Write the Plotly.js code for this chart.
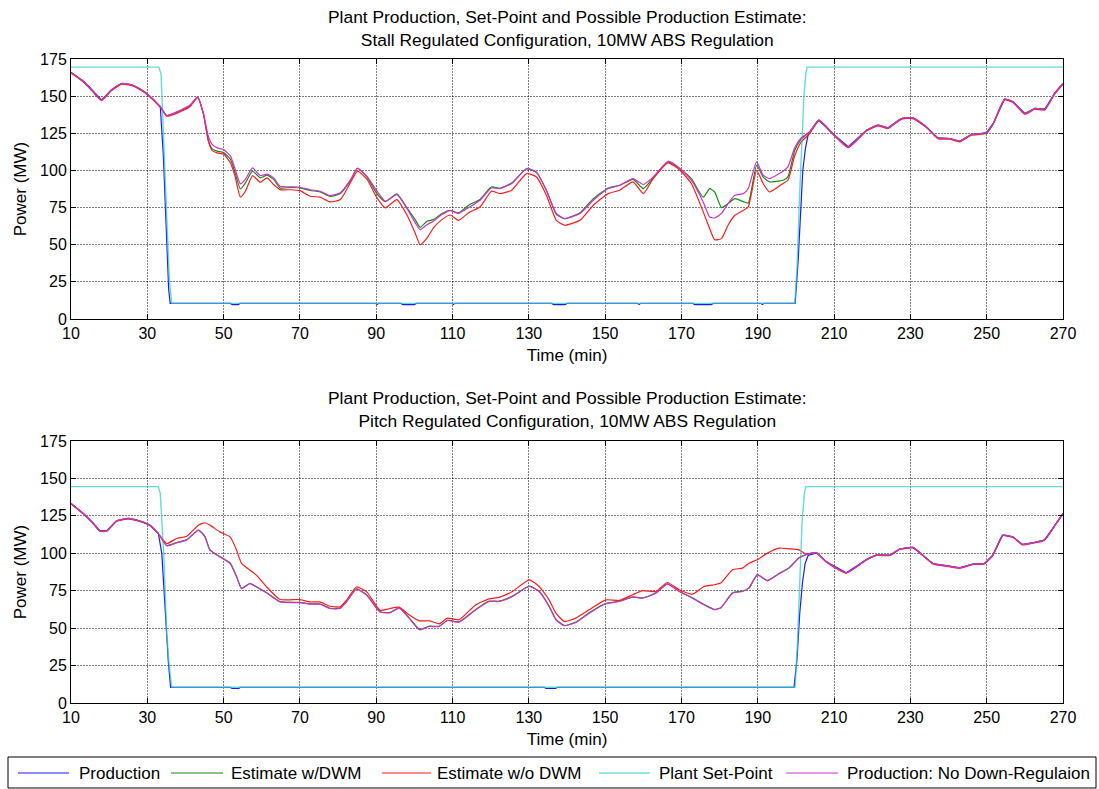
<!DOCTYPE html>
<html>
<head>
<meta charset="utf-8">
<script src="https://cdn.plot.ly/plotly-3.0.1.min.js"></script>
<style>
  html, body { margin: 0; padding: 0; background: #ffffff; }
  #chart { width: 1099px; height: 789px; }
</style>
</head>
<body>
<div id="chart"></div>
<script>
// ---- Stall regulated configuration (upper panel) ----
const tStall = [10, 13, 15, 18, 20.5, 23.3, 26, 28, 30, 33.4, 35.1, 38.6, 41.2, 43.2, 44.7, 46, 47, 48.3, 50, 51.8,
  53, 54.4, 55.7, 57.6, 59.6, 61.4, 63.1, 64.8, 67.5, 70, 72.7, 75.3, 77.9, 80.6, 83.2, 85.1, 87.6, 90.2, 92.4, 95.4,
  98, 100.2, 101.5, 103.3, 105, 107.2, 109.4, 111.5, 114.5, 117.2, 120.2, 122.4, 125.5, 129.4, 132, 134.6, 137.2, 139.4, 143.4, 146.9,
  150.8, 153.8, 157.3, 160, 162.6, 166.5, 169.6, 172.6, 175.7, 177.4, 178.7, 180.5, 182.2, 184, 186.2, 187.5, 189.7, 191.4, 193.1, 196.6,
  197.9, 199.7, 201.4, 203.6, 206, 209.7, 213.7, 218.5, 221.5, 224.1, 227.6, 230.7, 234.2, 237.2, 240.3, 242.9, 246, 249.9, 251.7, 254.7,
  256.9, 260, 262.6, 265.2, 267.8, 270];
const stallNoDownReg = [166, 160.5, 155.5, 147.5, 154, 158.5, 157.5, 155, 151.5, 143, 137, 140.5, 144, 149.5, 138.5, 123, 117.5, 115.2, 114, 109.6,
  101, 91, 94, 101.7, 96.5, 97.5, 95, 89.4, 89, 88.7, 87, 86, 83, 85, 93.5, 101.5, 96, 86, 79.3, 83.7,
  74.8, 64.7, 60.2, 63.5, 65.8, 70.3, 73, 71, 75.4, 79.9, 88.2, 87.8, 91.2, 101.3, 99, 86.7, 71, 67.6, 71, 79.9,
  87.8, 90, 94.5, 90.5, 95.6, 106.2, 101.3, 93.4, 78.8, 68.7, 68, 71, 77.7, 83.3, 84.4, 87.8, 105.8, 96.8, 94.5, 99.5,
  102.4, 115.5, 122, 126, 133.8, 124.8, 115.9, 127.1, 130.5, 128.7, 134.9, 135.4, 129.3, 121.9, 121.5, 119.7, 124.2, 125.3, 131.6, 148,
  146.2, 138.3, 141.7, 141.2, 151.8, 158.5];
const stallEstDWM = [166, 160.5, 155.5, 147.5, 154, 158.5, 157.5, 155, 151.5, 143, 137, 140, 143.5, 149.5, 138, 120, 114.5, 113, 112, 107.5,
  98.5, 87.5, 91.6, 99.5, 95, 96.8, 94, 88.2, 88.5, 88.3, 86.5, 85.5, 82.5, 84.5, 93, 101.3, 95.5, 84.2, 79, 84.2,
  75, 66.9, 61.7, 65.8, 66.9, 71, 73.2, 71.4, 77, 80.5, 88.9, 88, 91.5, 101, 98.5, 86.5, 70.5, 67.5, 71.5, 81,
  88.2, 90, 94, 87.8, 95, 105.8, 101, 94.5, 82, 87.8, 85.5, 75, 77.7, 81, 79, 78, 103.5, 95.6, 92.3, 93.4,
  95.6, 113.6, 121, 126, 133.8, 124.8, 115.9, 127.1, 130.5, 128.7, 134.9, 135.4, 129.3, 121.9, 121.5, 119.7, 124.2, 125.3, 131.6, 148,
  146.2, 138.3, 141.7, 141.2, 151.8, 158.5];
const stallEstNoDWM = [165.5, 160, 155, 147, 153.5, 158, 157, 154.5, 151, 142.5, 136.5, 139.5, 143, 149, 138, 120, 113.5, 111.8, 111, 105,
  96, 82, 86, 96.5, 92, 95, 90.5, 87.1, 87, 86.4, 82.6, 82, 78.8, 80.4, 91.6, 99.5, 93.9, 81.5, 74.8, 80.4,
  70.3, 57.9, 50, 54.5, 61.3, 66.9, 70, 66.4, 72, 75.4, 86, 84.4, 86.7, 97.9, 95.6, 83.3, 66.4, 63.1, 66.4, 76.6,
  84.4, 86.7, 92.3, 84.4, 94.5, 105.1, 100.1, 91.2, 72.1, 60.8, 53.4, 54.1, 63.1, 69.8, 73.2, 75.4, 100.1, 91.2, 85.5, 91.2,
  93.4, 110, 119.2, 124.8, 133.3, 124.3, 115.4, 126.6, 130, 128.2, 134.4, 134.9, 128.8, 121.4, 121, 119.2, 123.7, 124.8, 131.1, 147.5,
  145.7, 137.8, 141.2, 140.7, 151.3, 158];
const tStallProd = [10, 13, 15, 18, 20.5, 23.3, 26, 28, 30, 33.4, 34.2, 35, 35.6, 36,
  51.8, 52.3, 53.8, 54.3, 89.8, 90.2, 90.6, 96.5, 97, 100, 100.5, 109.8, 110.2, 110.6,
  136, 136.5, 139.5, 140, 158.5, 158.9, 159.3, 173, 173.5, 177.8, 178.3, 190.8, 191.2, 191.6,
  199.8, 200.6, 201.2, 201.8, 202.5, 203.2, 203.6, 206, 209.7, 213.7, 218.5, 221.5, 224.1, 227.6, 230.7, 234.2,
  237.2, 240.3, 242.9, 246, 249.9, 251.7, 254.7, 256.9, 260, 262.6, 265.2, 267.8, 270];
const stallProd = [166, 160.5, 155.5, 147.5, 154, 158.5, 157.5, 155, 151.5, 143, 110, 60, 20, 10.5,
  10.5, 9.7, 9.7, 10.5, 10.5, 9.7, 10.5, 10.5, 9.7, 9.7, 10.5, 10.5, 9.7, 10.5,
  10.5, 9.7, 9.7, 10.5, 10.5, 9.7, 10.5, 10.5, 9.7, 9.7, 10.5, 10.5, 9.7, 10.5,
  10.5, 40, 75, 100, 115, 124, 126, 133.8, 124.8, 115.9, 127.1, 130.5, 128.7, 134.9, 135.4, 129.3,
  121.9, 121.5, 119.7, 124.2, 125.3, 131.6, 148, 146.2, 138.3, 141.7, 141.2, 151.8, 158.5];
const tStallSet = [10, 33, 33.6, 34.2, 35, 35.8, 36.4, 199.7, 200.3, 200.9, 201.5, 202.1, 202.6, 202.9, 270];
const stallSet = [169.5, 169.5, 165, 130, 75, 25, 10.5, 10.5, 35, 80, 120, 150, 165, 169.5, 169.5];

// ---- Pitch regulated configuration (lower panel) ----
const tPitch = [10, 13.2, 15.5, 17.6, 19.3, 22, 25, 28.1, 30.7, 32.9, 35.1, 37.7, 40.3, 43.4, 45.1, 46.4, 49, 51.7, 53.4, 54.7,
  56.9, 58.6, 61.3, 64.8, 70, 72.6, 75.2, 77.9, 80.5, 82.2, 84.8, 87.5, 91, 93.6, 96, 98.6, 101.3, 103.9, 106.5, 108.7,
  111.7, 116.1, 119.6, 122.2, 125.7, 130.1, 132.7, 135.3, 137.1, 139.3, 142.3, 145.8, 150.2, 153.7, 157.2, 159.8, 163.3, 166.3, 169.4, 172.9,
  175.9, 178.6, 180.3, 183.4, 186, 187.7, 189.9, 192.5, 195.6, 198.2, 200.8, 202.6, 205.4, 208, 213.2, 218.5, 221.1, 224.6, 227.2, 230.7,
  235.9, 239.4, 242.9, 246.4, 249.4, 251.6, 254.2, 256.8, 259.4, 262, 265.1, 268.2, 270];
const pitchNoDownReg = [133.3, 126.6, 121, 115, 115, 121.7, 123.3, 121.5, 118.8, 113.2, 105, 107, 108.8, 115.5, 111, 102.1, 97.6, 93.2, 84.2, 76.4,
  79.8, 77.5, 73.5, 67.5, 67, 66, 66, 63.1, 63.1, 67.5, 76, 72, 60.8, 60.2, 63.4, 56.7, 48.9, 51.1, 51.1, 55.1,
  54, 62.3, 67.8, 67.8, 71.2, 77.8, 74.5, 64.5, 55.6, 51.6, 53.8, 60, 66.3, 67.8, 70.7, 70, 73.4, 79.4, 74.5, 70,
  65.6, 62.3, 63.4, 73.4, 74.5, 76.7, 85.6, 81.6, 86.3, 90.1, 96.8, 99, 100.3, 94.3, 87, 95.9, 98.8, 98.8, 102.8, 103.9,
  93.2, 91.7, 90.3, 92.8, 93.2, 98.8, 112.1, 111, 105.9, 107, 108.8, 119.9, 126.6];
const pitchEstDWM = [133.3, 126.6, 121, 115, 115, 121.7, 123.3, 121.5, 118.8, 113.2, 105.2, 107.2, 109, 115.5, 111.3, 102.5, 97.8, 93.5, 84.5, 76.6,
  80, 77.7, 73.7, 67.7, 67.2, 66.2, 66.2, 63.3, 63.3, 67.7, 76.2, 72.2, 61, 60.5, 63.5, 57, 49.2, 51.3, 51.3, 55.3,
  54.2, 62.5, 68, 68, 71.4, 78, 74.7, 64.8, 55.9, 51.8, 54, 60.2, 66.5, 68, 70.9, 70.2, 73.6, 79.6, 74.7, 70.2,
  65.9, 62.6, 63.7, 73.6, 74.7, 76.9, 85.8, 81.9, 86.5, 90.3, 97, 99, 100.3, 94.3, 87, 95.9, 98.8, 98.8, 102.8, 103.9,
  93.2, 91.7, 90.3, 92.8, 93.2, 98.8, 112.1, 111, 105.9, 107, 108.8, 119.9, 126.6];
const pitchEstNoDWM = [133, 126.3, 120.7, 114.7, 114.7, 121.4, 123, 121.2, 118.5, 113, 106.5, 109.9, 111.4, 118.8, 120.4, 118.8, 114.3, 111, 102.1, 93.2,
  88.7, 85.4, 77.5, 69.1, 69.1, 67.5, 67.5, 64.6, 64.2, 68.6, 77.5, 74.2, 61.9, 63.1, 64, 58.9, 54.9, 54.9, 52.9, 56.7,
  55.6, 65.6, 69.6, 70.5, 74.5, 82.3, 77.8, 68.9, 60, 54.5, 56.7, 62.3, 68.9, 68.5, 72.3, 75, 74.5, 80.5, 75.6, 72.7,
  77.8, 79, 80.1, 89, 90.1, 93.4, 95.7, 100.1, 103.5, 103, 102.3, 99.5, 100.3, 94, 86.8, 95.6, 98.5, 98.5, 102.5, 103.6,
  92.9, 91.4, 90, 92.5, 92.9, 98.5, 111.8, 110.7, 105.6, 106.7, 108.5, 119.6, 126.3];
const tPitchProd = [10, 13.2, 15.5, 17.6, 19.3, 22, 25, 28.1, 30.7, 32.9, 33.8, 34.6, 35.1, 35.5, 36.1,
  51.7, 52.2, 54, 54.4, 134, 134.5, 137, 137.5,
  199.5, 200.3, 201, 201.7, 202.4, 203.2, 205.4, 208, 213.2, 218.5, 221.1, 224.6, 227.2, 230.7,
  235.9, 239.4, 242.9, 246.4, 249.4, 251.6, 254.2, 256.8, 259.4, 262, 265.1, 268.2, 270];
const pitchProd = [133.3, 126.6, 121, 115, 115, 121.7, 123.3, 121.5, 118.8, 113.2, 99.8, 64, 42, 28, 10.5,
  10.5, 9.7, 9.7, 10.5, 10.5, 9.7, 9.7, 10.5,
  10.5, 30, 60, 80, 93, 98.5, 100.3, 94.3, 87, 95.9, 98.8, 98.8, 102.8, 103.9,
  93.2, 91.7, 90.3, 92.8, 93.2, 98.8, 112.1, 111, 105.9, 107, 108.8, 119.9, 126.6];
const tPitchSet = [10, 32.9, 33.4, 33.8, 34.3, 35.1, 35.7, 36.4, 199.8, 200.4, 201, 201.6, 202.2, 202.6, 270];
const pitchSet = [144.5, 144.5, 140, 124, 100, 46, 26, 10.5, 10.5, 40, 80, 120, 140, 144.5, 144.5];

// ---- Shared labels ----
const seriesNames = ['Production', 'Estimate w/DWM', 'Estimate w/o DWM', 'Plant Set-Point', 'Production: No Down-Regulaion'];
const seriesColors = ['#1a1aff', '#138a13', '#ff1a1a', '#33cccc', '#cc33cc'];
const xTicks = [10, 30, 50, 70, 90, 110, 130, 150, 170, 190, 210, 230, 250, 270];
const yTicks = [0, 25, 50, 75, 100, 125, 150, 175];
const titleTop = 'Plant Production, Set-Point and Possible Production Estimate:<br>Stall Regulated Configuration, 10MW ABS Regulation';
const titleBottom = 'Plant Production, Set-Point and Possible Production Estimate:<br>Pitch Regulated Configuration, 10MW ABS Regulation';

const FONT = '"Liberation Sans", Arial, Helvetica, sans-serif';

// page geometry (pixels) of the plotting region, used to place the key below both panels
const W = 1099, H = 789;
const M = { l: 71, r: 36, t: 59, b: 86 };
const plotW = W - M.l - M.r, plotH = H - M.t - M.b;
const px = (X) => (X - M.l) / plotW;
const py = (Y) => (H - M.b - Y) / plotH;

function panelTraces(xa, ya, prodT, prod, setT, setV, t, dwm, noDwm, noDown) {
  const base = { xaxis: xa, yaxis: ya, mode: 'lines', showlegend: false, hoverinfo: 'skip' };
  return [
    Object.assign({}, base, { x: prodT, y: prod, name: seriesNames[0], line: { color: seriesColors[0], width: 1.2 } }),
    Object.assign({}, base, { x: t, y: dwm, name: seriesNames[1], line: { color: seriesColors[1], width: 1.2, shape: 'spline', smoothing: 0.5 } }),
    Object.assign({}, base, { x: t, y: noDwm, name: seriesNames[2], line: { color: seriesColors[2], width: 1.2, shape: 'spline', smoothing: 0.5 } }),
    Object.assign({}, base, { x: setT, y: setV, name: seriesNames[3], opacity: 0.75, line: { color: seriesColors[3], width: 1.4 } }),
    Object.assign({}, base, { x: t, y: noDown, name: seriesNames[4], line: { color: seriesColors[4], width: 1.2, shape: 'spline', smoothing: 0.5 } })
  ];
}

const data = [].concat(
  panelTraces('x', 'y', tStallProd, stallProd, tStallSet, stallSet, tStall, stallEstDWM, stallEstNoDWM, stallNoDownReg),
  panelTraces('x2', 'y2', tPitchProd, pitchProd, tPitchSet, pitchSet, tPitch, pitchEstDWM, pitchEstNoDWM, pitchNoDownReg)
);

const gridStyle = { showgrid: true, gridcolor: 'rgba(0,0,0,0.5)', griddash: '2px,1px', gridwidth: 1, zeroline: false };

function xAxis(anchor) {
  return Object.assign({
    anchor: anchor, domain: [0, 1], range: [10, 270], tickvals: xTicks, ticktext: xTicks.map(String),
    ticks: 'inside', ticklen: 5, tickcolor: '#000', showline: true, linecolor: '#000', linewidth: 1, mirror: 'ticks',
    tickfont: { family: FONT, size: 16, color: '#000' },
    title: { text: 'Time (min)', font: { family: FONT, size: 17, color: '#000' }, standoff: 7 }
  }, gridStyle);
}
function yAxis(anchor, domain) {
  return Object.assign({
    anchor: anchor, domain: domain, range: [0, 175], tickvals: yTicks, ticktext: yTicks.map(String),
    ticks: 'inside', ticklen: 5, tickcolor: '#000', showline: true, linecolor: '#000', linewidth: 1, mirror: 'ticks',
    tickfont: { family: FONT, size: 16, color: '#000' },
    title: { text: 'Power (MW)', font: { family: FONT, size: 17, color: '#000' }, standoff: 9 }
  }, gridStyle);
}

// key below the panels: framed box, one short line sample and a label per series
const keyBox = { x0: 8, x1: 1096, y0: 757, y1: 788, yMid: 773 };
const keySamples = [[18, 69], [171, 223], [382, 431], [599, 650], [786, 838]];
const keyText = [77, 229, 435, 657, 845];
const shapes = [{
  type: 'rect', xref: 'paper', yref: 'paper', x0: px(keyBox.x0), x1: px(keyBox.x1), y0: py(keyBox.y1), y1: py(keyBox.y0),
  line: { color: '#000', width: 1 }, fillcolor: '#ffffff', layer: 'above'
}];
const annotations = [
  { text: titleTop, xref: 'paper', yref: 'paper', x: 0.5, y: py(28), xanchor: 'center', yanchor: 'middle',
    showarrow: false, font: { family: FONT, size: 17.4, color: '#000' } },
  { text: titleBottom, xref: 'paper', yref: 'paper', x: 0.5, y: py(410), xanchor: 'center', yanchor: 'middle',
    showarrow: false, font: { family: FONT, size: 17.4, color: '#000' } }
];
seriesNames.forEach((name, i) => {
  shapes.push({
    type: 'line', xref: 'paper', yref: 'paper', x0: px(keySamples[i][0]), x1: px(keySamples[i][1]),
    y0: py(keyBox.yMid), y1: py(keyBox.yMid), line: { color: seriesColors[i], width: 1.2 }, layer: 'above'
  });
  annotations.push({
    text: name, xref: 'paper', yref: 'paper', x: px(keyText[i]), y: py(keyBox.yMid), xanchor: 'left', yanchor: 'middle',
    showarrow: false, font: { family: FONT, size: 17, color: '#000' }
  });
});

const layout = {
  width: W, height: H,
  margin: { l: M.l, r: M.r, t: M.t, b: M.b, autoexpand: false },
  paper_bgcolor: '#ffffff', plot_bgcolor: '#ffffff',
  font: { family: FONT, size: 16, color: '#000' },
  showlegend: false,
  xaxis: xAxis('y'),
  yaxis: yAxis('x', [py(319), 1]),
  xaxis2: xAxis('y2'),
  yaxis2: yAxis('x2', [0, py(441)]),
  shapes: shapes,
  annotations: annotations
};

Plotly.newPlot('chart', data, layout, { displayModeBar: false, staticPlot: true });
</script>
</body>
</html>
